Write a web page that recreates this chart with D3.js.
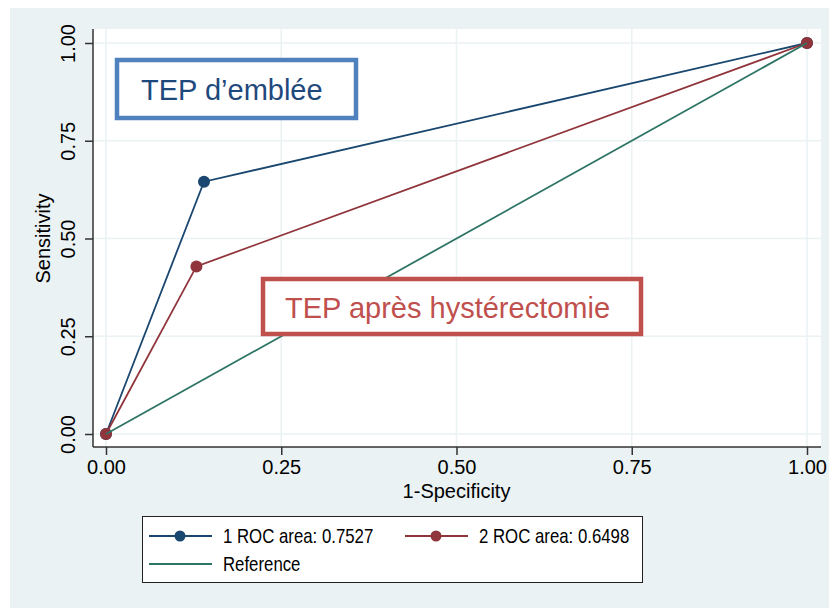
<!DOCTYPE html>
<html>
<head>
<meta charset="utf-8">
<script src="https://cdn.jsdelivr.net/npm/d3@7"></script>
<style>
  body { margin: 0; background: #fff; }
  svg { display: block; font-family: "Liberation Sans", Arial, sans-serif; }
</style>
</head>
<body>
<div id="chart"></div>
<script>
// ROC points (1-specificity, sensitivity)
const fpr1 = [0, 0.1398, 1]
const tpr1 = [0, 0.6452, 1]
const fpr2 = [0, 0.129, 1]
const tpr2 = [0, 0.4286, 1]
const refLine = [0, 1]
const ticks = [0, 0.25, 0.5, 0.75, 1]
const seriesNames = ["1 ROC area: 0.7527", "2 ROC area: 0.6498", "Reference"]
const notes = ["TEP d\u2019emblée", "TEP après hystérectomie"]

const width = 829, height = 608
const plot = {left: 93, right: 821, top: 29, bottom: 447}
const colors = ["#1a476f", "#90353b", "#2f7566"]

const x = d3.scaleLinear().domain([0, 1]).range([106, 807])
const y = d3.scaleLinear().domain([0, 1]).range([434, 43])

const svg = d3.select("#chart").append("svg")
  .attr("width", width).attr("height", height)

// outer background
svg.append("rect")
  .attr("x", 10).attr("y", 8)
  .attr("width", width - 10).attr("height", height - 8)
  .attr("fill", "#eaf2f3")

svg.append("rect")
  .attr("x", plot.left).attr("y", plot.top)
  .attr("width", plot.right - plot.left).attr("height", plot.bottom - plot.top)
  .attr("fill", "#fff")

// grid
svg.append("g").selectAll("line.vg").data(ticks).enter().append("line")
  .attr("x1", d => x(d)).attr("x2", d => x(d))
  .attr("y1", plot.top).attr("y2", plot.bottom)
  .attr("stroke", "#eaf2f3").attr("stroke-width", 1.5)
svg.append("g").selectAll("line.hg").data(ticks).enter().append("line")
  .attr("y1", d => y(d)).attr("y2", d => y(d))
  .attr("x1", plot.left).attr("x2", plot.right)
  .attr("stroke", "#eaf2f3").attr("stroke-width", 1.5)

// axes
const fmt = d3.format(".2f")
const xAxis = svg.append("g")
  .attr("transform", `translate(0,${plot.bottom})`)
  .call(d3.axisBottom(x).tickValues(ticks).tickFormat(fmt).tickSize(8).tickPadding(5).tickSizeOuter(0))
xAxis.select(".domain").attr("d", `M${plot.left},0H${plot.right}`)
xAxis.selectAll("text").style("font-size", "20px").attr("fill", "#000")

const yAxis = svg.append("g")
  .attr("transform", `translate(${plot.left},0)`)
  .call(d3.axisLeft(y).tickValues(ticks).tickFormat(fmt).tickSize(8).tickPadding(5).tickSizeOuter(0))
yAxis.select(".domain").attr("d", `M0,${plot.top}V${plot.bottom}`)
yAxis.selectAll("text")
  .style("font-size", "20px").attr("fill", "#000")
  .attr("text-anchor", "middle")
  .attr("x", 0).attr("dy", 0)
  .attr("transform", "translate(-18,0) rotate(-90)")
xAxis.selectAll("line, path").attr("stroke", "#333").attr("stroke-width", 1.5)
yAxis.selectAll("line, path").attr("stroke", "#333").attr("stroke-width", 1.5)

svg.append("text")
  .attr("x", x(0.5)).attr("y", 498)
  .attr("text-anchor", "middle").style("font-size", "20px")
  .text("1-Specificity")
svg.append("text")
  .attr("transform", `translate(50,${y(0.5)}) rotate(-90)`)
  .attr("text-anchor", "middle").style("font-size", "20px")
  .text("Sensitivity")

// curves
const line = d3.line().x(d => x(d[0])).y(d => y(d[1]))
const curves = [
  d3.zip(fpr1, tpr1),
  d3.zip(fpr2, tpr2)
]
curves.forEach((pts, i) => {
  svg.append("path").datum(pts)
    .attr("d", line).attr("fill", "none")
    .attr("stroke", colors[i]).attr("stroke-width", 1.8)
  svg.append("g").selectAll("circle").data(pts).enter().append("circle")
    .attr("cx", d => x(d[0])).attr("cy", d => y(d[1]))
    .attr("r", 6).attr("fill", colors[i])
})
svg.append("path").datum(d3.zip(refLine, refLine))
  .attr("d", line).attr("fill", "none")
  .attr("stroke", colors[2]).attr("stroke-width", 1.8)

// annotation boxes
const boxes = [
  {x0: 117, y0: 60, w: 239, h: 58, tx: 141, ty: 100, stroke: "#4f81bd", fill: "#1f497d"},
  {x0: 263, y0: 279, w: 378, h: 55, tx: 285, ty: 318, stroke: "#c0504d", fill: "#c0504d"}
]
boxes.forEach((b, i) => {
  svg.append("rect")
    .attr("x", b.x0).attr("y", b.y0).attr("width", b.w).attr("height", b.h)
    .attr("fill", "#fff").attr("stroke", b.stroke).attr("stroke-width", 4.5)
  svg.append("text")
    .attr("x", b.tx).attr("y", b.ty)
    .style("font-size", "29px").attr("fill", b.fill)
    .text(notes[i])
})

// legend
const lg = svg.append("g")
lg.append("rect")
  .attr("x", 142.5).attr("y", 516.5).attr("width", 500).attr("height", 66)
  .attr("fill", "#fff").attr("stroke", "#222").attr("stroke-width", 1)
const entries = [
  {lx: 149, ty: 536, marker: true},
  {lx: 405, ty: 536, marker: true},
  {lx: 149, ty: 564, marker: false}
]
entries.forEach((e, i) => {
  lg.append("line")
    .attr("x1", e.lx).attr("x2", e.lx + 63)
    .attr("y1", e.ty).attr("y2", e.ty)
    .attr("stroke", colors[i]).attr("stroke-width", 1.8)
  if (e.marker) {
    lg.append("circle").attr("cx", e.lx + 31).attr("cy", e.ty).attr("r", 5.5).attr("fill", colors[i])
  }
  lg.append("text")
    .attr("transform", `translate(${e.lx + 74},${e.ty}) scale(0.84,1)`)
    .attr("dy", "0.36em")
    .style("font-size", "20px")
    .text(seriesNames[i])
})
</script>
</body>
</html>
